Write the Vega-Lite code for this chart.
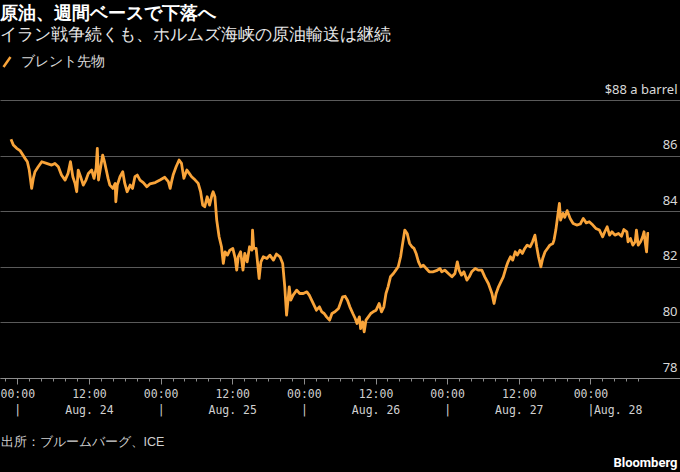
{
  "$schema": "https://vega.github.io/schema/vega-lite/v6.json",
  "width": 680,
  "height": 278,
  "autosize": "none",
  "padding": {"left": 0, "top": 100, "right": 0, "bottom": 94},
  "background": "#000000",
  "config": {"view": {"stroke": null}},
  "title": {
    "text": "原油、週間ベースで下落へ",
    "subtitle": "イラン戦争続くも、ホルムズ海峡の原油輸送は継続",
    "anchor": "start",
    "frame": "group",
    "color": "#ffffff",
    "fontSize": 18,
    "fontWeight": "bold",
    "subtitleColor": "#e8e8e8",
    "subtitleFontSize": 17,
    "subtitlePadding": 4,
    "offset": 12
  },
  "data": {
    "values": [
      {"h": -1.06, "p": 86.59}, {"h": -0.67, "p": 86.38}, {"h": -0.1, "p": 86.26}, {"h": 0.45, "p": 86.18},
      {"h": 1.29, "p": 85.9}, {"h": 1.68, "p": 85.78}, {"h": 2.0, "p": 85.48}, {"h": 2.4, "p": 84.82},
      {"h": 2.68, "p": 85.18}, {"h": 2.96, "p": 85.42}, {"h": 3.5, "p": 85.6}, {"h": 4.1, "p": 85.78},
      {"h": 4.9, "p": 85.72}, {"h": 5.76, "p": 85.66}, {"h": 6.3, "p": 85.72}, {"h": 6.87, "p": 85.6},
      {"h": 7.4, "p": 85.3}, {"h": 8.0, "p": 85.12}, {"h": 8.5, "p": 85.36}, {"h": 8.9, "p": 85.78},
      {"h": 9.3, "p": 85.24}, {"h": 9.67, "p": 85.0}, {"h": 9.95, "p": 84.7}, {"h": 10.2, "p": 85.48},
      {"h": 10.6, "p": 85.24}, {"h": 11.05, "p": 84.94}, {"h": 11.5, "p": 85.12}, {"h": 11.9, "p": 85.36},
      {"h": 12.46, "p": 85.48}, {"h": 12.85, "p": 85.18}, {"h": 13.2, "p": 85.54}, {"h": 13.4, "p": 86.26},
      {"h": 13.6, "p": 85.12}, {"h": 13.97, "p": 85.6}, {"h": 14.3, "p": 86.02}, {"h": 14.6, "p": 85.78},
      {"h": 14.9, "p": 85.48}, {"h": 15.2, "p": 85.18}, {"h": 15.5, "p": 84.94}, {"h": 16.0, "p": 84.82},
      {"h": 16.4, "p": 85.0}, {"h": 16.5, "p": 84.34}, {"h": 16.75, "p": 84.94}, {"h": 17.2, "p": 85.24},
      {"h": 17.66, "p": 85.42}, {"h": 18.0, "p": 85.0}, {"h": 18.4, "p": 84.7}, {"h": 18.9, "p": 84.94},
      {"h": 19.3, "p": 84.82}, {"h": 19.7, "p": 85.24}, {"h": 20.1, "p": 85.3}, {"h": 20.55, "p": 85.12},
      {"h": 21.1, "p": 85.03}, {"h": 21.7, "p": 84.88}, {"h": 22.2, "p": 84.98}, {"h": 23.1, "p": 85.03},
      {"h": 23.9, "p": 85.12}, {"h": 24.7, "p": 85.22}, {"h": 25.3, "p": 85.06}, {"h": 25.6, "p": 84.82},
      {"h": 25.9, "p": 85.12}, {"h": 26.1, "p": 85.3}, {"h": 26.6, "p": 85.6}, {"h": 27.1, "p": 85.84},
      {"h": 27.5, "p": 85.72}, {"h": 27.9, "p": 85.18}, {"h": 28.4, "p": 85.48}, {"h": 28.8, "p": 85.36},
      {"h": 29.2, "p": 85.24}, {"h": 29.8, "p": 85.12}, {"h": 30.3, "p": 85.0}, {"h": 30.7, "p": 84.7},
      {"h": 31.05, "p": 84.22}, {"h": 31.4, "p": 84.16}, {"h": 31.8, "p": 84.52}, {"h": 32.2, "p": 84.22},
      {"h": 32.6, "p": 84.58}, {"h": 32.8, "p": 84.7}, {"h": 33.1, "p": 84.52}, {"h": 33.4, "p": 83.68},
      {"h": 33.8, "p": 83.08}, {"h": 34.2, "p": 82.72}, {"h": 34.5, "p": 82.12}, {"h": 34.8, "p": 82.54},
      {"h": 35.2, "p": 82.42}, {"h": 35.6, "p": 82.6}, {"h": 36.1, "p": 82.66}, {"h": 36.5, "p": 82.3},
      {"h": 36.75, "p": 81.88}, {"h": 37.0, "p": 82.36}, {"h": 37.4, "p": 82.54}, {"h": 37.8, "p": 81.88},
      {"h": 38.1, "p": 82.48}, {"h": 38.5, "p": 82.18}, {"h": 38.9, "p": 82.72}, {"h": 39.3, "p": 82.6},
      {"h": 39.4, "p": 83.32}, {"h": 39.6, "p": 82.66}, {"h": 40.0, "p": 82.66}, {"h": 40.2, "p": 82.24},
      {"h": 40.5, "p": 81.58}, {"h": 40.8, "p": 82.18}, {"h": 41.2, "p": 82.36}, {"h": 41.8, "p": 82.3},
      {"h": 42.3, "p": 82.42}, {"h": 42.9, "p": 82.24}, {"h": 43.4, "p": 82.46}, {"h": 44.0, "p": 82.36},
      {"h": 44.45, "p": 82.12}, {"h": 44.8, "p": 81.28}, {"h": 45.1, "p": 80.26}, {"h": 45.4, "p": 80.92},
      {"h": 45.55, "p": 81.28}, {"h": 45.8, "p": 80.8}, {"h": 46.2, "p": 80.98}, {"h": 46.8, "p": 81.16},
      {"h": 47.3, "p": 81.04}, {"h": 47.9, "p": 81.04}, {"h": 48.5, "p": 81.1}, {"h": 48.9, "p": 80.98},
      {"h": 49.3, "p": 80.8}, {"h": 49.7, "p": 80.62}, {"h": 50.1, "p": 80.44}, {"h": 50.6, "p": 80.56},
      {"h": 51.0, "p": 80.38}, {"h": 51.4, "p": 80.32}, {"h": 51.8, "p": 80.2}, {"h": 52.3, "p": 80.08},
      {"h": 52.7, "p": 80.32}, {"h": 53.2, "p": 80.38}, {"h": 53.8, "p": 80.5}, {"h": 54.1, "p": 80.68},
      {"h": 54.5, "p": 80.92}, {"h": 54.9, "p": 80.94}, {"h": 55.3, "p": 80.8}, {"h": 55.7, "p": 80.56},
      {"h": 56.2, "p": 80.32}, {"h": 56.6, "p": 80.14}, {"h": 56.9, "p": 79.96}, {"h": 57.3, "p": 80.2},
      {"h": 57.5, "p": 79.78}, {"h": 57.85, "p": 80.02}, {"h": 58.1, "p": 79.66}, {"h": 58.4, "p": 80.08},
      {"h": 58.8, "p": 80.2}, {"h": 59.2, "p": 80.32}, {"h": 59.6, "p": 80.38}, {"h": 60.1, "p": 80.44},
      {"h": 60.6, "p": 80.68}, {"h": 61.0, "p": 80.38}, {"h": 61.4, "p": 80.56}, {"h": 61.75, "p": 81.04},
      {"h": 62.1, "p": 81.28}, {"h": 62.5, "p": 81.64}, {"h": 63.0, "p": 81.76}, {"h": 63.4, "p": 81.88},
      {"h": 63.8, "p": 82.0}, {"h": 64.2, "p": 82.36}, {"h": 64.5, "p": 82.78}, {"h": 64.9, "p": 83.32},
      {"h": 65.3, "p": 83.2}, {"h": 65.7, "p": 82.84}, {"h": 66.1, "p": 82.72}, {"h": 66.45, "p": 82.66},
      {"h": 66.8, "p": 82.48}, {"h": 67.2, "p": 82.18}, {"h": 67.6, "p": 82.0}, {"h": 68.0, "p": 82.06},
      {"h": 68.5, "p": 81.94}, {"h": 69.0, "p": 81.82}, {"h": 69.6, "p": 81.82}, {"h": 70.2, "p": 81.86},
      {"h": 70.8, "p": 81.94}, {"h": 71.1, "p": 81.82}, {"h": 71.6, "p": 81.88}, {"h": 72.2, "p": 81.76},
      {"h": 72.8, "p": 81.64}, {"h": 73.3, "p": 81.76}, {"h": 73.7, "p": 82.18}, {"h": 74.0, "p": 81.88},
      {"h": 74.4, "p": 81.7}, {"h": 74.8, "p": 81.82}, {"h": 75.3, "p": 81.52}, {"h": 75.7, "p": 81.64},
      {"h": 76.1, "p": 81.82}, {"h": 76.7, "p": 81.94}, {"h": 77.2, "p": 81.88}, {"h": 77.8, "p": 81.88},
      {"h": 78.3, "p": 81.64}, {"h": 78.9, "p": 81.4}, {"h": 79.5, "p": 81.04}, {"h": 79.85, "p": 80.68},
      {"h": 80.2, "p": 81.04}, {"h": 80.6, "p": 81.28}, {"h": 81.0, "p": 81.46}, {"h": 81.4, "p": 81.64},
      {"h": 81.9, "p": 82.0}, {"h": 82.2, "p": 82.18}, {"h": 82.6, "p": 82.36}, {"h": 82.98, "p": 82.24},
      {"h": 83.4, "p": 82.54}, {"h": 83.75, "p": 82.42}, {"h": 84.2, "p": 82.6}, {"h": 84.6, "p": 82.48},
      {"h": 85.0, "p": 82.66}, {"h": 85.4, "p": 82.78}, {"h": 85.9, "p": 82.72}, {"h": 86.3, "p": 82.9},
      {"h": 86.7, "p": 83.14}, {"h": 87.0, "p": 82.72}, {"h": 87.3, "p": 82.36}, {"h": 87.7, "p": 82.0},
      {"h": 88.0, "p": 82.3}, {"h": 88.4, "p": 82.54}, {"h": 88.8, "p": 82.66}, {"h": 89.2, "p": 82.78},
      {"h": 89.7, "p": 82.84}, {"h": 89.9, "p": 82.96}, {"h": 90.2, "p": 83.32}, {"h": 90.5, "p": 83.8},
      {"h": 90.8, "p": 84.28}, {"h": 91.0, "p": 83.68}, {"h": 91.4, "p": 83.92}, {"h": 91.7, "p": 83.78},
      {"h": 92.1, "p": 84.02}, {"h": 92.6, "p": 83.74}, {"h": 93.1, "p": 83.56}, {"h": 93.7, "p": 83.5},
      {"h": 94.3, "p": 83.54}, {"h": 94.8, "p": 83.74}, {"h": 95.3, "p": 83.58}, {"h": 95.8, "p": 83.62},
      {"h": 96.4, "p": 83.5}, {"h": 96.9, "p": 83.38}, {"h": 97.5, "p": 83.32}, {"h": 98.05, "p": 83.08},
      {"h": 98.4, "p": 83.26}, {"h": 98.8, "p": 83.44}, {"h": 99.2, "p": 83.14}, {"h": 99.6, "p": 83.26},
      {"h": 100.1, "p": 83.14}, {"h": 100.7, "p": 83.2}, {"h": 101.2, "p": 83.1}, {"h": 101.6, "p": 83.34},
      {"h": 102.1, "p": 83.26}, {"h": 102.3, "p": 82.9}, {"h": 102.7, "p": 83.02}, {"h": 103.1, "p": 82.78},
      {"h": 103.5, "p": 82.9}, {"h": 103.7, "p": 83.32}, {"h": 104.0, "p": 82.78}, {"h": 104.4, "p": 82.9},
      {"h": 104.75, "p": 83.08}, {"h": 104.97, "p": 83.26}, {"h": 105.2, "p": 82.84}, {"h": 105.4, "p": 82.54},
      {"h": 105.6, "p": 83.2}, {"h": 105.8, "p": 83.2}
    ]
  },
  "layer": [
    {
      "mark": {"type": "line", "strokeWidth": 2.8, "strokeJoin": "round"},
      "encoding": {
        "x": {
          "field": "h",
          "type": "quantitative",
          "scale": {"domain": [-2.9, 111.0], "nice": false, "zero": false},
          "axis": {
            "orient": "bottom",
            "values": [0, 12, 24, 36, 48, 60, 72, 84, 96],
            "grid": false,
            "domain": true,
            "domainColor": "#8c8c8c",
            "ticks": true,
            "tickColor": "#8c8c8c",
            "tickSize": 6,
            "labelExpr": "datum.value % 24 === 12 ? ['12:00', 'Aug. ' + (24 + floor(datum.value / 24))] : ['00:00', '|']",
            "labelFont": "DejaVu Sans Mono",
            "labelFontSize": 11.5,
            "labelColor": "#d0d0d0",
            "labelLineHeight": 16,
            "labelPadding": 4,
            "labelOverlap": false,
            "labelFlush": false,
            "labelBound": false,
            "title": "出所：ブルームバーグ、ICE",
            "titleAnchor": "start",
            "titleAlign": "left",
            "titleBaseline": "middle",
            "titleY": 63,
            "titleFontSize": 12.5,
            "titleFontWeight": "normal",
            "titleColor": "#d0d0d0"
          }
        },
        "y": {
          "field": "p",
          "type": "quantitative",
          "scale": {"domain": [78, 88], "nice": false, "zero": false},
          "axis": {
            "orient": "right",
            "values": [78, 80, 82, 84, 86, 88],
            "grid": true,
            "gridColor": "#5a5a5a",
            "domain": false,
            "ticks": false,
            "tickSize": 0,
            "labelAlign": "right",
            "labelBaseline": "alphabetic",
            "labelPadding": -3,
            "labelOffset": -7,
            "labelColor": "#d9d9d9",
            "labelFont": "Noto Sans",
            "labelFontSize": 13,
            "labelExpr": "datum.value === 88 ? '$88 a barrel' : datum.label",
            "labelOverlap": false,
            "labelFlush": false,
            "labelBound": false,
            "title": null
          }
        },
        "stroke": {
          "datum": "ブレント先物",
          "scale": {"range": ["#f9a43a"]},
          "legend": {
            "orient": "none",
            "legendX": 0,
            "legendY": -45,
            "title": null,
            "padding": 0,
            "symbolType": "M-0.7,1L0.7,-1",
            "symbolSize": 100,
            "symbolStrokeWidth": 2.5,
            "labelFontSize": 14,
            "labelColor": "#d9d9d9",
            "labelOffset": 7
          }
        }
      }
    },
    {
      "mark": {"type": "line", "opacity": 0},
      "encoding": {
        "x": {
          "field": "h",
          "type": "quantitative",
          "axis": {
            "orient": "bottom",
            "values": [-2, 0, 2, 4, 6, 8, 10, 12, 14, 16, 18, 20, 22, 24, 26, 28, 30, 32, 34, 36, 38, 40, 42, 44, 46, 48, 50, 52, 54, 56, 58, 60, 62, 64, 66, 68, 70, 72, 74, 76, 78, 80, 82, 84, 86, 88, 90, 92, 94, 96, 98, 100, 102, 104],
            "domain": false,
            "ticks": true,
            "tickSize": 3,
            "tickColor": "#8c8c8c",
            "labels": true,
            "labelExpr": "datum.value === 96 ? 'Aug. 28' : ''",
            "labelAlign": "left",
            "labelBaseline": "top",
            "labelOffset": 3,
            "labelPadding": 23,
            "labelFont": "DejaVu Sans Mono",
            "labelFontSize": 11.5,
            "labelColor": "#d0d0d0",
            "labelOverlap": false,
            "labelFlush": false,
            "labelBound": false,
            "grid": false,
            "title": "Bloomberg",
            "titleAnchor": "end",
            "titleAlign": "right",
            "titleBaseline": "middle",
            "titleX": 677,
            "titleY": 84,
            "titleFont": "Roboto",
            "titleFontSize": 13,
            "titleFontWeight": "bold",
            "titleColor": "#ffffff"
          }
        },
        "y": {"field": "p", "type": "quantitative"}
      }
    }
  ],
  "resolve": {"axis": {"x": "independent"}}
}
